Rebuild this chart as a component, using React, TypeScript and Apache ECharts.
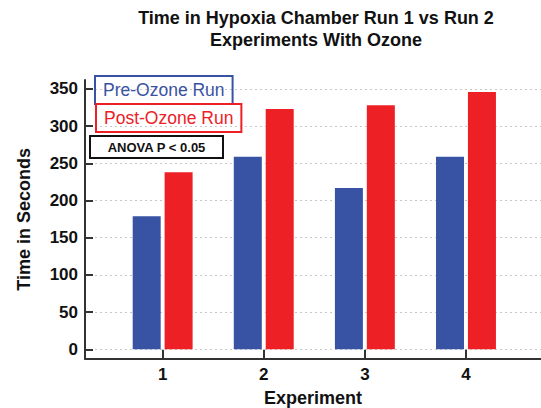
import React, { useEffect, useRef } from "react";
import * as echarts from "echarts";

const experiments = [1, 2, 3, 4];
const preOzone = [179, 259, 217, 259];
const postOzone = [238, 323, 328, 346];
const yTicks = [0, 50, 100, 150, 200, 250, 300, 350];

const FONT = "'Liberation Sans', Arial, Helvetica, sans-serif";
const BLUE = "#3953A4";
const RED = "#ED2026";

export default function App() {
  const ref = useRef<HTMLDivElement>(null);
  useEffect(() => {
    if (!ref.current) return;
    const chart = echarts.init(ref.current, undefined, { renderer: "svg" });
    chart.setOption({
      animation: false,
      backgroundColor: "#ffffff",
      title: {
        text: "Time in Hypoxia Chamber Run 1 vs Run 2\nExperiments With Ozone",
        left: 316,
        top: 7,
        padding: 0,
        textAlign: "center",
        textStyle: {
          fontFamily: FONT,
          fontSize: 18,
          fontWeight: "bold",
          color: "#111",
          lineHeight: 22,
        },
      },
      legend: [
        {
          data: ["Pre-Ozone Run"],
          left: 95,
          top: 76,
          orient: "vertical",
          icon: "none",
          itemWidth: 0,
          itemHeight: 0,
          padding: [5, 8, 5, 3],
          borderColor: BLUE,
          borderWidth: 2,
          selectedMode: false,
          textStyle: { color: BLUE, fontSize: 17.5, fontFamily: FONT },
        },
        {
          data: ["Post-Ozone Run"],
          left: 96,
          top: 104,
          orient: "vertical",
          icon: "none",
          itemWidth: 0,
          itemHeight: 0,
          padding: [5, 8, 5, 3],
          borderColor: RED,
          borderWidth: 2,
          selectedMode: false,
          textStyle: { color: RED, fontSize: 17.5, fontFamily: FONT },
        },
      ],
      grid: { left: 85, right: 0, top: 80, bottom: 49.3, containLabel: false, outerBoundsMode: "none" },
      xAxis: {
        type: "value",
        min: 0.232,
        max: 4.742,
        name: "Experiment",
        nameLocation: "middle",
        nameGap: 30,
        nameTextStyle: { fontFamily: FONT, fontSize: 18, fontWeight: "bold", color: "#111" },
        axisLine: { show: true, onZero: false, lineStyle: { color: "#333", width: 2 } },
        axisTick: { show: true, inside: true, length: 9, customValues: experiments, lineStyle: { color: "#333", width: 2 } },
        axisLabel: {
          customValues: experiments,
          margin: 7,
          fontFamily: FONT,
          fontSize: 17,
          fontWeight: "bold",
          color: "#111",
          formatter: (v: number) => String(v),
        },
        splitLine: { show: false },
      },
      yAxis: {
        type: "value",
        min: -12.6,
        max: 362,
        name: "Time in Seconds",
        nameLocation: "middle",
        nameGap: 52,
        nameTextStyle: { fontFamily: FONT, fontSize: 18, fontWeight: "bold", color: "#111" },
        axisLine: { show: true, lineStyle: { color: "#333", width: 2 } },
        axisTick: { show: true, inside: true, length: 8, customValues: yTicks, lineStyle: { color: "#333", width: 2 } },
        axisLabel: {
          customValues: yTicks,
          margin: 7,
          fontFamily: FONT,
          fontSize: 17,
          fontWeight: "bold",
          color: "#111",
        },
        splitLine: { show: true, lineStyle: { color: "#c8c8c8", type: [2, 3], width: 1 } },
      },
      series: [
        {
          name: "Pre-Ozone Run",
          type: "bar",
          barWidth: 28,
          barGap: "14%",
          itemStyle: { color: BLUE },
          data: experiments.map((e, i) => [e, preOzone[i]]),
        },
        {
          name: "Post-Ozone Run",
          type: "bar",
          barWidth: 28,
          barGap: "14%",
          itemStyle: { color: RED },
          data: experiments.map((e, i) => [e, postOzone[i]]),
        },
      ],
      graphic: [
        {
          type: "group",
          children: [
            {
              type: "rect",
              shape: { x: 90, y: 136, width: 133, height: 22 },
              style: { fill: "#fff", stroke: "#111", lineWidth: 2 },
            },
            {
              type: "text",
              x: 156.5,
              y: 147,
              style: {
                text: "ANOVA P < 0.05",
                align: "center",
                verticalAlign: "middle",
                font: "bold 13px " + FONT,
                fill: "#111",
              },
            },
          ],
        },
      ],
    });
    return () => chart.dispose();
  }, []);
  return <div ref={ref} style={{ width: 541, height: 408, position: "absolute", left: 0, top: 0 }} />;
}
